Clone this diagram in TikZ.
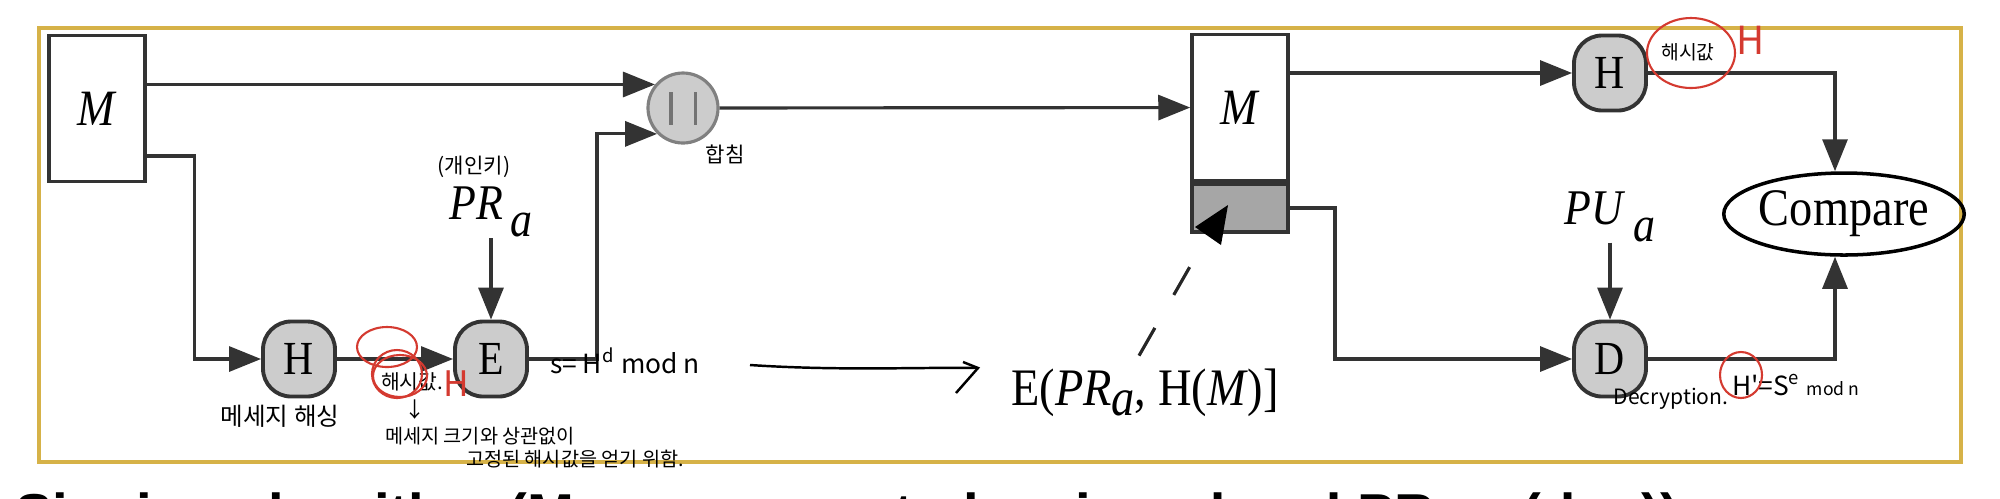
\documentclass[tikz,border=0pt]{standalone}
\usepackage{fontspec}
\setmainfont[FakeStretch=0.88]{Liberation Serif}
\setsansfont{Liberation Sans}
\newfontfamily\hand{Noto Sans CJK KR}
\usetikzlibrary{positioning}
\usetikzlibrary{arrows.meta, shapes.geometric}
\definecolor{frame}{RGB}{214,178,72}
\definecolor{pen}{RGB}{212,58,48}

\begin{document}
\begin{tikzpicture}[
    auto,
    node distance = 1.92cm,
    semithick,
    >={Triangle[length=3.2mm, width=2.5mm]},
    ]

    \tikzstyle{every node}=[font=\fontsize{15}{17}\selectfont]
    \tikzstyle{msg}=[
    draw = black!80,
    line width = 1pt,
    fill = white,
    minimum width = 9.6mm,
    minimum height = 14.6mm,
    inner sep = 0pt,
    font = \fontsize{14.5}{17}\selectfont,
    ]
    \tikzstyle{slot}=[msg, fill=black!35, minimum height=4.8mm]
    \tikzstyle{op}=[
    draw = black!80,
    line width = 1.1pt,
    fill = black!20,
    rounded corners = 2.8mm,
    minimum width = 7.2mm,
    minimum height = 7.5mm,
    inner sep = 0pt,
    font = \fontsize{13.5}{15}\selectfont,
    ]
    \tikzstyle{joiner}=[circle, draw=black!50, line width=0.9pt, fill=black!20, minimum size=7mm, inner sep=0pt]
    \tikzstyle{key}=[inner sep=0pt, font=\fontsize{14.2}{16}\selectfont]
    \tikzstyle{wire}=[draw=black!80, line width=0.9pt]
    \tikzstyle{note}=[inner sep=0pt, font=\hand\fontsize{6}{7}\selectfont]
    \tikzstyle{redink}=[draw=pen, line width=0.6pt]

    \useasboundingbox (0,0) rectangle (20,4.98);
    \draw[frame, line width=1pt] (0.39,0.36) rectangle (19.61,4.70);

    % sender side
    \node[msg] (m1) at (0.97,3.895) {\textit{M}};
    \node[op] (h1) at (2.99,1.39) {H};
    \node[op] (e1) [right of=h1] {E};
    \node[key] (p1) [above of=e1, node distance=1.47cm] {\textit{PR}\hspace{0.8mm}\raisebox{-1.7mm}{\textit{a}}};
    \node[joiner] (cat) at (6.83,3.90) {\color{black!55}\rule{0.9pt}{3.3mm}\hspace{2.1mm}\rule{0.9pt}{3.3mm}};

    % receiver side
    \node[msg] (m2) at (12.40,3.905) {\textit{M}};
    \node[slot] (s2) [below=0pt of m2] {};
    \node[op] (h2) at (16.10,4.25) {H};
    \node[op] (d2) at (16.10,1.39) {D};
    \node[key] (p2) [above of=d2, node distance=1.425cm] {\textit{PU}\hspace{0.8mm}\raisebox{-1.7mm}{\textit{a}}};
    \node[ellipse, draw, line width=1pt, minimum width=2.18cm, minimum height=0.82cm, inner sep=0pt] (cmp) at (18.44,2.84) {Compare};
    \node[anchor=base] (sig) at (11.45,0.93) {E(\textit{PR}\raisebox{-1mm}{\textit{a}}, H(\textit{M})]};

    \path[wire, ->] (m1.east |- cat.140) -- (cat.140);
    \path[wire, ->] ([yshift=-4.75mm]m1.east) -- ++(4.8mm,0) |- (h1);
    \path[wire, ->] (h1) -- (e1);
    \path[wire, ->] (p1) -- (e1);
    \path[wire, ->] (e1) -- ++(1.06,0) |- (cat.225);
    \path[wire, ->] (cat) -- (m2);
    \path[wire, ->] (m2.east |- h2) -- (h2);
    \path[wire, ->] (s2) -- ++(0.95,0) |- (d2);
    \path[wire, ->] (p2) -- (d2);
    \path[wire, ->] (h2) -| ([xshift=-0.9mm]cmp.north);
    \path[wire, ->] (d2) -| ([xshift=-0.9mm]cmp.south);

    \coordinate (sigend) at (11.92,2.35);
    \draw[black!85, line width=0.9pt, dash pattern=on 3.2mm off 3.8mm] ([xshift=-0.6mm]sig.north) -- (sigend);
    \fill[black] (11.95,2.71) -- (12.28,2.93) -- (12.21,2.53) -- cycle;

    % handwritten notes
    \node[note] (n1) at (4.74,3.31) {(개인키)};
    \node[note, font=\hand\fontsize{7}{8}\selectfont] (n2) at (2.80,0.82) {메세지 해싱};
    \node[note, font=\hand\fontsize{5.8}{7}\selectfont] (n3) at (4.12,1.16) {해시값.};
    \node[note] (n4) at (4.15,0.88) {↓};
    \node[note, font=\hand\fontsize{5.6}{7}\selectfont] (n5) at (4.80,0.62) {메세지 크기와 상관없이};
    \node[note, font=\hand\fontsize{5.6}{7}\selectfont] (n6) at (5.75,0.39) {고정된 해시값을 얻기 위함.};
    \node[note, anchor=west, font=\hand\fontsize{7.5}{9}\selectfont] (n7) at (5.49,1.37) {s= H\textsuperscript{d} mod n};
    \node[note] (n8) at (7.25,3.44) {합침};
    \node[note, font=\hand\fontsize{5.5}{7}\selectfont] (n9) at (16.88,4.46) {해시값};
    \node[note, font=\hand\fontsize{6}{7}\selectfont] (n10) at (16.71,0.99) {Decryption.};
    \node[note, anchor=west, font=\hand\fontsize{7.5}{9}\selectfont] (n11) at (17.31,1.13) {H'=S\textsuperscript{e} {\fontsize{5}{6}\selectfont mod n}};

    \coordinate (ha) at (7.50,1.33);
    \coordinate (hb) at (9.78,1.30);
    \draw[line width=0.7pt] (ha) .. controls (8.4,1.27) and (9.2,1.31) .. (hb);
    \draw[line width=0.7pt] (9.63,1.36) -- (hb) -- (9.56,1.05);

    % red marks
    \draw[redink] (3.87,1.51) ellipse (0.30 and 0.20);
    \draw[redink] (3.97,1.24) ellipse (0.25 and 0.24);
    \draw[redink] (4.00,1.22) ellipse (0.27 and 0.21);
    \node[note, text=pen, font=\hand\fontsize{10}{11}\selectfont] (r1) at (4.56,1.14) {H};
    \draw[redink] (16.91,4.45) ellipse (0.44 and 0.35);
    \node[note, text=pen, font=\hand\fontsize{11}{12}\selectfont] (r2) at (17.51,4.58) {H};
    \draw[redink] (17.41,1.23) ellipse (0.21 and 0.23);

    % caption below, cut by the page
    \node[anchor=base west, inner sep=0pt, font=\sffamily\bfseries\fontsize{16}{18}\selectfont] (cap) at (0.14,-0.354) {Signing algorithm (M = message to be signed and PR\textsubscript{a} = (d, n))};
  \end{tikzpicture}
\end{document}
